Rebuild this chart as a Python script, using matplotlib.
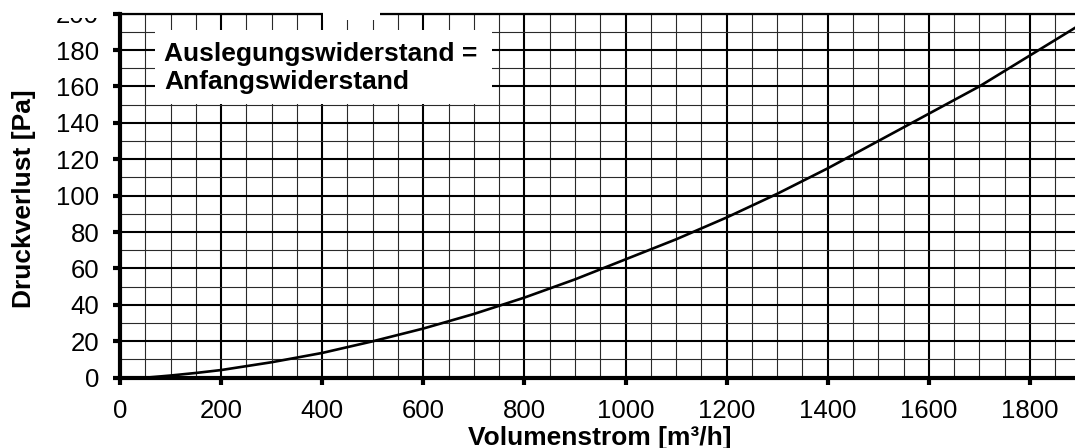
import matplotlib
matplotlib.use("Agg")
import matplotlib.pyplot as plt
from matplotlib.patches import Rectangle
from matplotlib.ticker import MultipleLocator

plt.rcParams['font.family'] = ['Liberation Sans', 'DejaVu Sans']

# data
flow = [50, 100, 150, 200, 300, 400, 500, 600, 700, 800, 900, 1000, 1100,
        1200, 1300, 1400, 1500, 1600, 1700, 1800, 1900]
pressure = [0, 1.2, 2.6, 4.2, 8.5, 13.6, 20, 27, 35, 44, 54, 65, 76,
            88, 101, 115, 130, 145, 160, 177, 194]
x_ticks = [0, 200, 400, 600, 800, 1000, 1200, 1400, 1600, 1800]
y_ticks = [0, 20, 40, 60, 80, 100, 120, 140, 160, 180, 200]
x_label = "Volumenstrom [m³/h]"
y_label = "Druckverlust [Pa]"
note = "Auslegungswiderstand =\nAnfangswiderstand"

W, H = 1075, 448
fig = plt.figure(figsize=(W / 100, H / 100), dpi=100)
left_px, right_px, top_px, bottom_px = 120, 1131, 13.6, 377.7
ax = fig.add_axes([left_px / W, 1 - bottom_px / H,
                   (right_px - left_px) / W, (bottom_px - top_px) / H])

ax.set_xlim(0, 2000)
ax.set_ylim(0, 200)
ax.set_xticks(x_ticks)
ax.set_yticks(y_ticks)
ax.xaxis.set_minor_locator(MultipleLocator(50))
ax.yaxis.set_minor_locator(MultipleLocator(10))

ax.grid(which='major', color='black', lw=1.5, zorder=1)
ax.grid(which='minor', color='#2a2a2a', lw=0.8, zorder=1)
ax.set_axisbelow(True)

ax.plot(flow, pressure, color='black', lw=1.9, zorder=3)

ax.tick_params(which='major', direction='out', length=5, width=3,
               labelsize=18.5, pad=10)
ax.tick_params(which='minor', length=0)

ax.spines['left'].set_linewidth(3)
ax.spines['bottom'].set_linewidth(3)
ax.spines['top'].set_linewidth(1.6)
ax.spines['right'].set_visible(False)

fig.text(600 / W, 1 - 438 / H, x_label, ha='center', va='center',
         fontsize=19, fontweight='bold')
fig.text(24 / W, 1 - 199 / H, y_label, ha='center', va='center',
         rotation=90, fontsize=19, fontweight='bold')

# white note box
fig.add_artist(Rectangle((155 / W, 1 - 104 / H), (492 - 155) / W, (104 - 30) / H,
                         transform=fig.transFigure, facecolor='white',
                         edgecolor='none', zorder=5))
fig.text(164 / W, 1 - 68 / H, note, ha='left', va='center', fontsize=19,
         fontweight='bold', linespacing=1.2, zorder=6)
# white gap at the top
fig.add_artist(Rectangle((323 / W, 1 - 20 / H), (380 - 323) / W, 20 / H,
                         transform=fig.transFigure, facecolor='white',
                         edgecolor='none', zorder=5))
# top of the "200" label is cut off in the reference
fig.add_artist(Rectangle((40 / W, 1 - 18 / H), (108 - 40) / W, 18 / H,
                         transform=fig.transFigure, facecolor='white',
                         edgecolor='none', zorder=5))

fig.savefig("out.png", dpi=100)
